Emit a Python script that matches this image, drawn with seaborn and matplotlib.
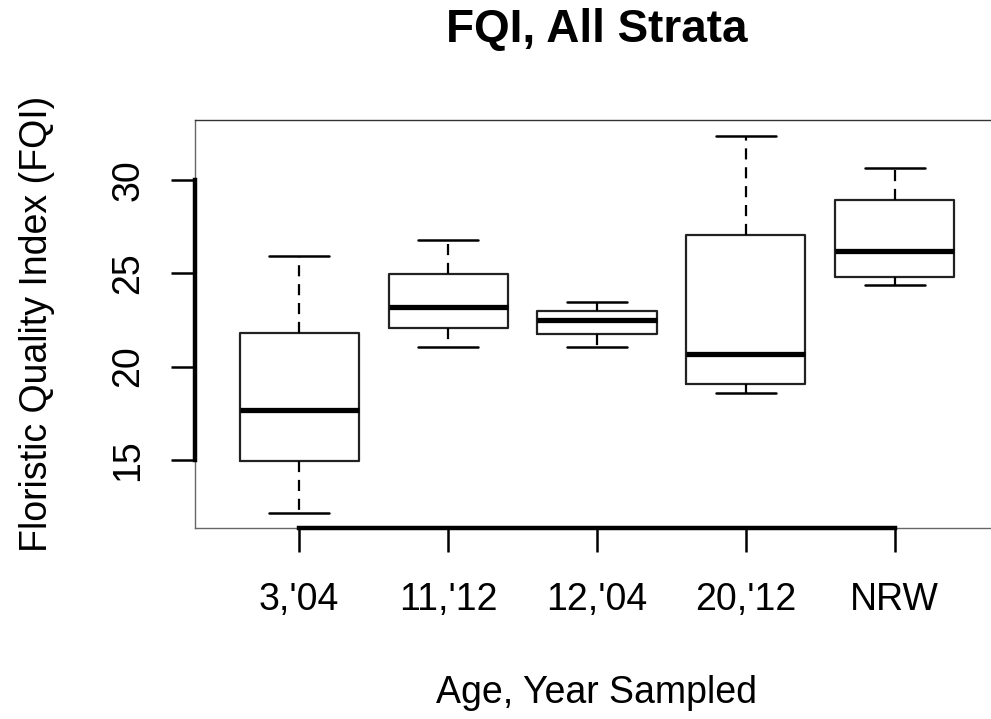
import numpy as np
import pandas as pd
import matplotlib
matplotlib.use("Agg")
import matplotlib.pyplot as plt
from matplotlib.spines import Spine
import seaborn as sns

# ---- data ----
categories = ["3,'04", "11,'12", "12,'04", "20,'12", "NRW"]
mins = [12.15, 21.02, 21.02, 18.57, 24.34]
q1s = [14.95, 22.09, 21.73, 19.07, 24.82]
medians = [17.70, 23.18, 22.50, 20.68, 26.16]
q3s = [21.80, 24.96, 22.95, 27.05, 28.93]
maxs = [25.90, 26.80, 23.48, 32.35, 30.62]
yticks = [15, 20, 25, 30]

title = "FQI, All Strata"
xlabel = "Age, Year Sampled"
ylabel = "Floristic Quality Index (FQI)"

rows = []
for c, a, b, m, d, e in zip(categories, mins, q1s, medians, q3s, maxs):
    for v in (a, b, m, d, e):
        rows.append({"group": c, "value": v})
df = pd.DataFrame(rows)

sns.set_style("white")
plt.rcParams["font.family"] = ["Liberation Sans", "DejaVu Sans"]
plt.rcParams["text.color"] = "black"
plt.rcParams["axes.labelcolor"] = "black"
plt.rcParams["xtick.color"] = "black"
plt.rcParams["ytick.color"] = "black"

fig = plt.figure(figsize=(9.91, 7.19), dpi=100)
ax = fig.add_axes([195 / 991, 1 - 528.3 / 719, (999 - 195) / 991, (528.3 - 120) / 719])

sns.boxplot(
    data=df, x="group", y="value", order=categories, ax=ax,
    fill=False, color="black", width=0.8, whis=(0, 100), linewidth=1.6,
    boxprops=dict(color="#222222", linewidth=1.6),
    medianprops=dict(color="black", linewidth=3.8, solid_capstyle="butt"),
    whiskerprops=dict(color="black", linewidth=1.6, linestyle=(0, (5, 3.5))),
    capprops=dict(color="black", linewidth=1.8),
)

ax.set_xlim(-0.7, 4.7)
ax.set_ylim(11.34, 33.2)
ax.set_yticks(yticks)
ax.set_yticklabels([str(t) for t in yticks], rotation=90, va="center")

ax.tick_params(axis="both", which="major", length=17, width=1.8, color="black",
               labelsize=27, direction="out", labelcolor="black",
               bottom=True, left=True, top=False, right=False)
ax.tick_params(axis="x", pad=22)
ax.tick_params(axis="y", pad=18)

# thin frame
for s in ax.spines.values():
    s.set_visible(True)
    s.set_color("#666666")
    s.set_linewidth(1.0)
ax.spines["top"].set_color("#333333")

# thick R-style axis lines spanning first to last tick
yaxis_sp = Spine.linear_spine(ax, "left")
yaxis_sp.set_position(("axes", 0.0))
yaxis_sp.set_bounds(yticks[0], yticks[-1])
yaxis_sp.set_linewidth(3.2)
yaxis_sp.set_color("black")
ax.spines["left_axis"] = yaxis_sp

xaxis_sp = Spine.linear_spine(ax, "bottom")
xaxis_sp.set_position(("axes", 0.0))
xaxis_sp.set_bounds(0, len(categories) - 1)
xaxis_sp.set_linewidth(3.2)
xaxis_sp.set_color("black")
ax.spines["bottom_axis"] = xaxis_sp

ax.set_title(title, fontsize=33, fontweight="bold", pad=56, color="black")
ax.set_xlabel(xlabel, fontsize=27, labelpad=41)
ax.set_ylabel(ylabel, fontsize=27, labelpad=40)

fig.savefig("out.png", dpi=100)
